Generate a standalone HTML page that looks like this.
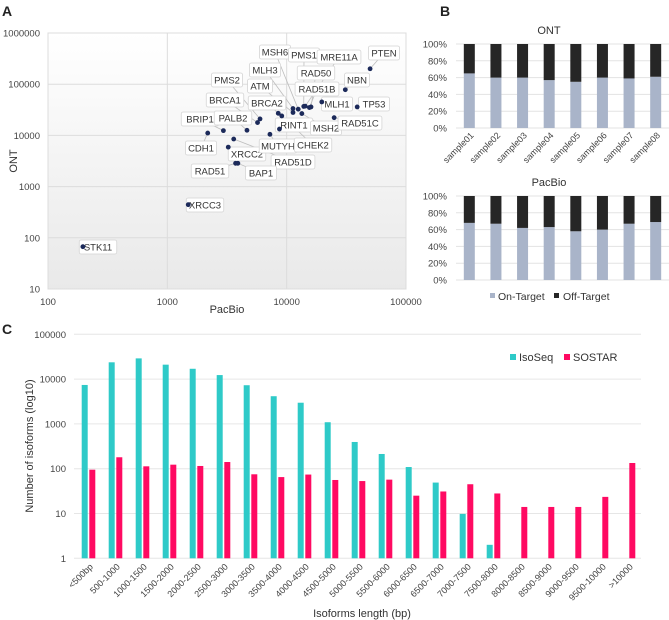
<!DOCTYPE html>
<html><head><meta charset="utf-8">
<style>
html,body{margin:0;padding:0;background:#fff;}
svg{display:block;font-family:"Liberation Sans",sans-serif;}
</style></head>
<body>
<svg id="fig" width="669" height="620" viewBox="0 0 669 620" xmlns="http://www.w3.org/2000/svg">
<defs>
<linearGradient id="bgA" x1="0" y1="0" x2="0" y2="1">
<stop offset="0" stop-color="#ffffff"/><stop offset="1" stop-color="#e9e9e9"/>
</linearGradient>
</defs>
<text x="2" y="16" font-size="14" font-weight="bold" fill="#222">A</text>
<text x="440" y="16" font-size="14" font-weight="bold" fill="#222">B</text>
<text x="2" y="334" font-size="14" font-weight="bold" fill="#222">C</text>
<g id="gA"></g>
<g id="gB"></g>
<g id="gC"></g>
</svg>
<script>
// ---------- Panel A data ----------
const genes = ["STK11","XRCC3","CDH1","BRIP1","PALB2","XRCC2","RAD51D","RAD51","BAP1","BRCA1","PMS2","MUTYH","RINT1","BRCA2","CHEK2","ATM","MLH3","MSH6","MSH2","PMS1","MRE11A","RAD50","RAD51B","MLH1","RAD51C","NBN","TP53","PTEN"];
const pacbioVals = [196,1497,2180,2950,4650,3240,3600,3730,3900,5700,5980,7240,8700,8500,9100,11300,11300,12500,13400,13900,14300,16000,15500,19700,25000,31000,39000,50000];
const ontVals = [67,443,11100,12400,12600,5900,8500,2850,2850,17800,21000,10500,13300,27000,24000,28000,33500,32500,26700,36800,37300,36000,35000,45000,22200,78000,36000,200000];
const aTicksX = [100,1000,10000,100000];
const aTicksY = [10,100,1000,10000,100000,1000000];
// ---------- Panel B data ----------
const samples = ["sample01","sample02","sample03","sample04","sample05","sample06","sample07","sample08"];
const ontOn = [65,60,60,57,55,60,59,61];
const pacOn = [68,67,62,63,58,60,67,69];
const pctTicks = [0,20,40,60,80,100];
// ---------- Panel C data ----------
const lenCats = ["<500bp","500-1000","1000-1500","1500-2000","2000-2500","2500-3000","3000-3500","3500-4000","4000-4500","4500-5000","5000-5500","5500-6000","6000-6500","6500-7000","7000-7500","7500-8000","8000-8500","8500-9000","9000-9500","9500-10000",">10000"];
const isoSeq = [7400,23700,29000,21000,17000,12300,7300,4150,2970,1090,395,213,109,49,9.8,2,0,0,0,0,0];
const sostar = [95,180,113,123,115,141,75,65,74,56,53,57,25,31,45,28,14,14,14,23.5,134];
const cTicks = [1,10,100,1000,10000,100000];

// label box layout (pixel positions of callouts, not data)
const labelLayout = [[98,247],[205,205],[201,148],[200,119],[233,118],[247,154],[293,162],[210,171],[261,173],[225,100],[227,80],[278,146],[294,125],[267,103],[313,145],[260,86],[265,70],[275,52],[326,128],[304,55],[339,57],[316,73],[317,89],[337,104],[360,123],[357,80],[374,104],[384,53]];

const NS="http://www.w3.org/2000/svg";
function mk(tag,attrs,parent,text){const e=document.createElementNS(NS,tag);for(const k in attrs)e.setAttribute(k,attrs[k]);if(text!==undefined)e.textContent=text;parent.appendChild(e);return e;}

// ===== Panel A =====
(function(){
const g=document.getElementById('gA');
const L=48,R=406,T=33,B=289;
const xs=v=>L+(Math.log10(v)-2)/3*(R-L);
const ys=v=>B-(Math.log10(v)-1)/5*(B-T);
const bg=mk('rect',{x:L,y:T,width:R-L,height:B-T,fill:'url(#bgA)',stroke:'#d9d9d9'},g);


aTicksX.forEach(v=>{
  const l=mk('line',{x1:xs(v),x2:xs(v),y1:T,y2:B,stroke:'#dcdcdc'},g);
  
  
  const t=mk('text',{x:xs(v),y:305,'font-size':9.5,'text-anchor':'middle',fill:'#444'},g,String(v));
  
  
});
aTicksY.forEach(v=>{
  const l=mk('line',{x1:L,x2:R,y1:ys(v),y2:ys(v),stroke:'#dcdcdc'},g);
  
  
  const t=mk('text',{x:40,y:ys(v)+3.5,'font-size':9.5,'text-anchor':'end',fill:'#444'},g,String(v));
  
  
});
const xt=mk('text',{x:227,y:313,'font-size':11,'text-anchor':'middle',fill:'#333'},g,'PacBio');


const yt=mk('text',{x:0,y:0,'font-size':11,'text-anchor':'middle',fill:'#333',transform:'translate(17,161) rotate(-90)'},g,'ONT');


const lines=mk('g',{},g), boxes=mk('g',{},g), dots=mk('g',{},g);
genes.forEach((name,i)=>{
  const px=xs(pacbioVals[i]),py=ys(ontVals[i]);
  const [lx,ly]=labelLayout[i];
  const ln=mk('line',{x1:lx,y1:ly,x2:px,y2:py,stroke:'#bdbdbd','stroke-width':0.8},lines);
  
  
  const w=name.length*6.3+6;
  const r=mk('rect',{x:lx-w/2,y:ly-7,width:w,height:14,rx:2,fill:'#fff',stroke:'#d4d4d4','stroke-width':0.8},boxes);
  
  
  const t=mk('text',{x:lx,y:ly+3.5,'font-size':9.5,'text-anchor':'middle',fill:'#333'},boxes,name);
  
  
  const c=mk('circle',{cx:px,cy:py,r:2.4,fill:'#1c2a5a'},dots);
  
  
});
})();

// ===== Panel B =====
(function(){
const g=document.getElementById('gB');
const L=456,R=669,band=(R-L)/samples.length,bw=11;
function panel(title,vals,T,B,showX){
  const ys=p=>B-p/100*(B-T);
  const tt=mk('text',{x:549,y:T-10,'font-size':11,'text-anchor':'middle',fill:'#333'},g,title);
  
  
  pctTicks.forEach(p=>{
    const l=mk('line',{x1:L,x2:R,y1:ys(p),y2:ys(p),stroke:'#e3e3e3'},g);
    
    
    const t=mk('text',{x:447,y:ys(p)+3.5,'font-size':9.5,'text-anchor':'end',fill:'#444'},g,p+'%');
    
    
  });
  vals.forEach((v,i)=>{
    const cx=L+band*(i+0.5);
    const on=mk('rect',{x:cx-bw/2,y:ys(v),width:bw,height:B-ys(v),fill:'#a9b4c9'},g);
    
    
    const off=mk('rect',{x:cx-bw/2,y:T,width:bw,height:ys(v)-T,fill:'#262626'},g);
    
    
    if(showX){
      const t=mk('text',{x:0,y:0,'font-size':9,'text-anchor':'end',fill:'#444',transform:`translate(${cx+5},${B+8}) rotate(-45)`},g,samples[i]);
      
      
    }
  });
}
panel('ONT',ontOn,44,128,true);
panel('PacBio',pacOn,196,280,false);
const s1=mk('rect',{x:490,y:293,width:5,height:5,fill:'#a9b4c9'},g);


const t1=mk('text',{x:498,y:300,'font-size':10.5,fill:'#333'},g,'On-Target');


const s2=mk('rect',{x:554,y:293,width:5,height:5,fill:'#262626'},g);


const t2=mk('text',{x:563,y:300,'font-size':10.5,fill:'#333'},g,'Off-Target');


})();

// ===== Panel C =====
(function(){
const g=document.getElementById('gC');
const L=74,R=641,T=334.3,B=558.3,band=(R-L)/lenCats.length;
const ys=v=>B-Math.log10(v)/5*(B-T);
cTicks.forEach(v=>{
  const l=mk('line',{x1:L,x2:R,y1:ys(v),y2:ys(v),stroke:'#e6e6e6'},g);
  
  
  const t=mk('text',{x:66,y:ys(v)+3.5,'font-size':9.5,'text-anchor':'end',fill:'#444'},g,String(v));
  
  
});
lenCats.forEach((c,i)=>{
  const cx=L+band*(i+0.5);
  if(isoSeq[i]>0){
    const b=mk('rect',{x:cx-5.8,y:ys(isoSeq[i]),width:6,height:B-ys(isoSeq[i]),fill:'#2ecac8'},g);
    
    
  }
  if(sostar[i]>0){
    const b=mk('rect',{x:cx+1.8,y:ys(sostar[i]),width:6,height:B-ys(sostar[i]),fill:'#ff0a62'},g);
    
    
  }
  const t=mk('text',{x:0,y:0,'font-size':9,'text-anchor':'end',fill:'#444',transform:`translate(${cx+6},${B+9}) rotate(-45)`},g,c);
  
  
});
const yt=mk('text',{x:0,y:0,'font-size':11,'text-anchor':'middle',fill:'#333',transform:'translate(33,446) rotate(-90)'},g,'Number of isoforms (log10)');


const xt=mk('text',{x:362,y:617,'font-size':11,'text-anchor':'middle',fill:'#333'},g,'Isoforms length (bp)');


const s1=mk('rect',{x:510,y:354,width:6,height:6,fill:'#2ecac8'},g);


const t1=mk('text',{x:519,y:361,'font-size':11,fill:'#333'},g,'IsoSeq');


const s2=mk('rect',{x:564,y:354,width:6,height:6,fill:'#ff0a62'},g);


const t2=mk('text',{x:573,y:361,'font-size':11,fill:'#333'},g,'SOSTAR');


})();
</script>
</body></html>
